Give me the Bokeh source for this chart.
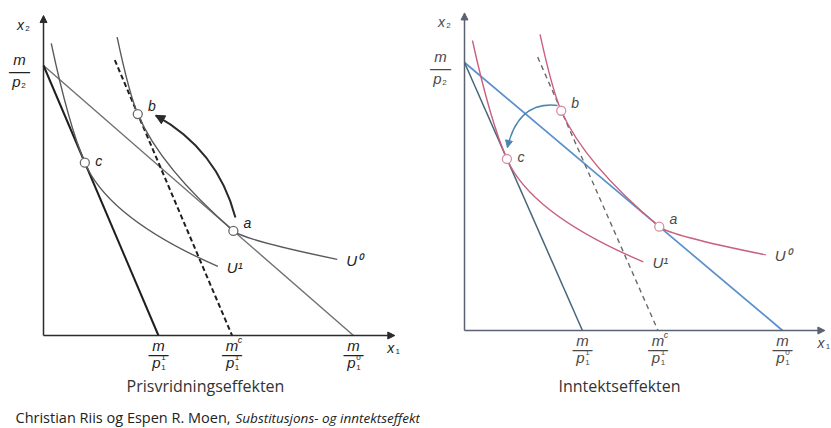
from bokeh.plotting import figure
from bokeh.layouts import row
from bokeh.models import Range1d, Arrow, NormalHead, Label
from bokeh.core.properties import value
from bokeh.embed import file_html
from bokeh.resources import INLINE

# ---------------- data (economic units) ----------------
m_over_p2 = 10.0          # vertical intercept m/p2
m_over_p1_0 = 12.0        # old budget line intercept m/p1^0
m_over_p1_1 = 4.45        # new budget line intercept m/p1^1
mc_over_p1_1 = 7.3        # compensated budget line intercept m^c/p1^1
dashed_top_y = 10.2       # where the compensated (dashed) line is drawn from

point_names = ["a", "b", "c"]
point_x = [7.35, 3.65, 1.6]
point_y = [3.875, 8.2, 6.4]

# indifference curve U0: quadratic pieces (start, control, end)
u0_x0 = [2.85, 3.65, 7.35]
u0_y0 = [11.05, 8.2, 3.875]
u0_cx = [3.318, 4.53, 7.75]
u0_cy = [8.946, 6.22, 3.54]
u0_x1 = [3.65, 7.35, 11.37]
u0_y1 = [8.2, 3.875, 2.82]

# indifference curve U1
u1_x0 = [0.3, 1.6]
u1_y0 = [10.82, 6.4]
u1_cx = [0.965, 2.52]
u1_cy = [7.83, 4.33]
u1_x1 = [1.6, 6.75]
u1_y1 = [6.4, 2.56]

# substitution arrow (a -> b) and income arrow (b -> c)
subst_arrow = dict(x0=[7.43], y0=[4.37], cx=[6.73], cy=[6.89], x1=[4.34], y1=[8.15])
income_arrow = dict(x0=[3.51], y0=[8.40], cx=[2.02], cy=[8.56], x1=[1.62], y1=[6.83])

tick_x = [m_over_p1_1, mc_over_p1_1, m_over_p1_0]
tick_num = ["m", "m", "m"]
tick_num_sup = ["", "c", ""]
tick_den = ["p", "p", "p"]
tick_den_sup = ["1", "1", "0"]
tick_den_sub = ["1", "1", "1"]

u_labels = ["U\u2070", "U\u00b9"]
titles = ["Prisvridningseffekten", "Inntektseffekten"]
footer_plain = "Christian Riis og Espen R. Moen,"
footer_italic = "Substitusjons- og inntektseffekt"

# ---------------- layout / style ----------------
H = 428
X_AXIS_END = 13.6
Y_AXIS_END = 11.85
MATH = "Liberation Sans"
SANS = "Open Sans"

LEFT_STYLE = dict(axis="#2b2b2b", steep="#1e1e1e", steep_w=2.0, budget="#707070", budget_w=1.4,
                  dashed="#1e1e1e", dashed_w=2.0, dash="5 3", curve="#5a5a5a", curve_w=1.4,
                  arrow="#2a2a2a", arrow_w=2.0, pt_line="#6a6a6a", text="#222222")
RIGHT_STYLE = dict(axis="#5a6272", steep="#47667a", steep_w=1.5, budget="#5b90cc", budget_w=1.7,
                   dashed="#6a6a6a", dashed_w=1.4, dash="5 4", curve="#c9607e", curve_w=1.4,
                   arrow="#4a86b0", arrow_w=1.5, pt_line="#d592a4", text="#4a4a4a")


def txt(p, x, y, t, dx, dy, size, color, style="italic", align="center", font=MATH):
    p.text(x=x, y=y, text=t, x_offset=dx, y_offset=dy, text_font=value(font),
           text_font_size=size, text_font_style=style, text_color=color,
           text_align=align, text_baseline="middle")


def make_panel(width, ox, oy, sx, sy, st, arrow_seg, head_size, title, title_x):
    p = figure(width=width, height=H,
               x_range=Range1d(-ox / sx, (width - ox) / sx),
               y_range=Range1d((oy - H) / sy, oy / sy),
               output_backend="svg", toolbar_location=None,
               x_axis_type=None, y_axis_type=None, min_border=0,
               outline_line_color=None, background_fill_color="white",
               border_fill_color="white")
    p.grid.visible = False

    # axes with arrow heads
    p.add_layout(Arrow(x_start=0, y_start=0, x_end=0, y_end=Y_AXIS_END, line_color=st["axis"],
                       line_width=1.5, end=NormalHead(size=7, fill_color=st["axis"], line_color=st["axis"])))
    p.add_layout(Arrow(x_start=0, y_start=0, x_end=X_AXIS_END, y_end=0, line_color=st["axis"],
                       line_width=1.5, end=NormalHead(size=7, fill_color=st["axis"], line_color=st["axis"])))

    # budget lines
    p.line([0, m_over_p1_0], [m_over_p2, 0], line_color=st["budget"], line_width=st["budget_w"])
    p.line([0, m_over_p1_1], [m_over_p2, 0], line_color=st["steep"], line_width=st["steep_w"])
    slope = m_over_p2 / m_over_p1_1
    p.line([mc_over_p1_1 - dashed_top_y / slope, mc_over_p1_1], [dashed_top_y, 0],
           line_color=st["dashed"], line_width=st["dashed_w"], line_dash=st["dash"])

    # indifference curves
    p.quadratic(x0=u0_x0, y0=u0_y0, x1=u0_x1, y1=u0_y1, cx=u0_cx, cy=u0_cy,
                line_color=st["curve"], line_width=st["curve_w"])
    p.quadratic(x0=u1_x0, y0=u1_y0, x1=u1_x1, y1=u1_y1, cx=u1_cx, cy=u1_cy,
                line_color=st["curve"], line_width=st["curve_w"])

    # effect arrow
    a = arrow_seg
    p.quadratic(x0=a["x0"], y0=a["y0"], x1=a["x1"], y1=a["y1"], cx=a["cx"], cy=a["cy"],
                line_color=st["arrow"], line_width=st["arrow_w"])
    ex, ey = a["x1"][0], a["y1"][0]
    bx = ex - 0.08 * (ex - a["cx"][0])
    by = ey - 0.08 * (ey - a["cy"][0])
    p.add_layout(Arrow(x_start=bx, y_start=by, x_end=ex, y_end=ey, line_color=None,
                       end=NormalHead(size=head_size, fill_color=st["arrow"], line_color=st["arrow"])))

    # points
    p.scatter(point_x, point_y, marker="circle", size=9, fill_color="white",
              line_color=st["pt_line"], line_width=1.3)
    offs = [(14, -8), (14, -8), (14, -2)]
    for i, n in enumerate(point_names):
        txt(p, [point_x[i]], [point_y[i]], [n], offs[i][0], offs[i][1], "14px", st["text"])

    # curve labels
    txt(p, [u0_x1[-1]], [u0_y1[-1]], [u_labels[0]], 9, 1, "15px", st["text"], align="left")
    txt(p, [u1_x1[-1]], [u1_y1[-1]], [u_labels[1]], 9, 1, "15px", st["text"], align="left")

    # x tick fractions
    zeros = [0] * len(tick_x)
    txt(p, tick_x, zeros, tick_num, 0, 10, "15px", st["text"])
    txt(p, tick_x, zeros, tick_num_sup, 8, 4, "9px", st["text"])
    txt(p, tick_x, zeros, ["\u2014"] * len(tick_x), 0, 18, "20px", st["text"], style="normal")
    txt(p, tick_x, zeros, tick_den, -2, 27, "15px", st["text"])
    txt(p, tick_x, zeros, tick_den_sup, 5, 22, "8px", st["text"], style="normal")
    txt(p, tick_x, zeros, tick_den_sub, 5, 32, "8px", st["text"], style="normal")

    # y intercept fraction m/p2
    txt(p, [0], [m_over_p2], ["m"], -24, -6, "15px", st["text"])
    txt(p, [0], [m_over_p2], ["\u2014"], -24, 5, "21px", st["text"], style="normal")
    txt(p, [0], [m_over_p2], ["p"], -27, 16, "15px", st["text"])
    txt(p, [0], [m_over_p2], ["2"], -20, 20, "8px", st["text"], style="normal")

    # axis names
    txt(p, [0], [Y_AXIS_END], ["x"], -23, 9, "14px", st["text"])
    txt(p, [0], [Y_AXIS_END], ["2"], -16, 13, "8px", st["text"], style="normal")
    txt(p, [X_AXIS_END], [0], ["x"], -4, 12, "14px", st["text"])
    txt(p, [X_AXIS_END], [0], ["1"], 3, 16, "8px", st["text"], style="normal")

    # panel title
    p.add_layout(Label(x=title_x, y=H - 385, x_units="screen", y_units="screen", text=title,
                       text_font=SANS, text_font_size="16px", text_color="#333333",
                       text_align="center", text_baseline="middle"))
    return p


left = make_panel(420, 43, 335, 25.83, 27.0, LEFT_STYLE, subst_arrow, 9, titles[0], 205)
right = make_panel(411, 44, 330, 26.5, 26.8, RIGHT_STYLE, income_arrow, 7, titles[1], 199)

left.add_layout(Label(x=15, y=H - 417, x_units="screen", y_units="screen", text=footer_plain,
                      text_font=SANS, text_font_size="14.5px", text_color="#222222",
                      text_baseline="middle"))
left.add_layout(Label(x=235, y=H - 417, x_units="screen", y_units="screen", text=footer_italic,
                      text_font=SANS, text_font_size="13.5px", text_font_style="italic",
                      text_color="#222222", text_baseline="middle"))

layout = row(left, right, spacing=0)
open("out.html", "w").write(file_html(layout, INLINE))
